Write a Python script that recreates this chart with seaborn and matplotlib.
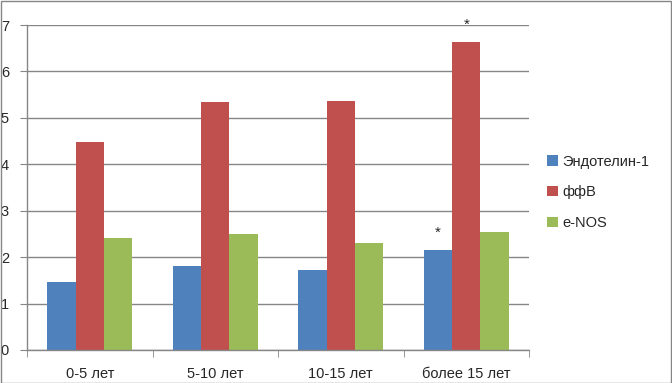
import pandas as pd
import numpy as np
import matplotlib.pyplot as plt
import seaborn as sns

# данные по стажу
groups = ['0-5 лет', '5-10 лет', '10-15 лет', 'более 15 лет']
series = ['Эндотелин-1', 'ффВ', 'e-NOS']
endothelin = [1.47, 1.80, 1.73, 2.16]
ffv = [4.49, 5.35, 5.37, 6.64]
enos = [2.42, 2.49, 2.31, 2.55]
colors = ['#4F81BD', '#C0504D', '#9BBB59']
# звёздочки: (серия, группа)
stars = [('Эндотелин-1', 'более 15 лет'), ('ффВ', 'более 15 лет')]

df = pd.DataFrame({
    'group': groups * 3,
    'series': np.repeat(series, len(groups)),
    'value': endothelin + ffv + enos,
})

sns.set_style('white')
plt.rcParams['font.family'] = ['Liberation Sans', 'DejaVu Sans']

fig = plt.figure(figsize=(6.72, 3.83), dpi=100)
ax = fig.add_axes([0.0402, 0.0862, 0.747, 0.8485])

sns.barplot(data=df, x='group', y='value', hue='series', order=groups,
            hue_order=series, palette=colors, width=0.68, gap=0,
            saturation=1, ax=ax, linewidth=0, edgecolor='none')

ax.set_ylim(0, 7)
ax.set_xlim(-0.5, len(groups) - 0.5)
ax.set_yticks(range(0, 8))
ax.set_xlabel('')
ax.set_ylabel('')

grid_c = '#868686'
ax.yaxis.grid(True, color=grid_c, linewidth=1)
ax.set_axisbelow(True)
for s in ['top', 'right']:
    ax.spines[s].set_visible(False)
for s in ['left', 'bottom']:
    ax.spines[s].set_color(grid_c)
    ax.spines[s].set_linewidth(1)

ax.tick_params(axis='y', left=True, length=5, color=grid_c, labelsize=10.5, pad=8)
ax.tick_params(axis='x', which='major', length=0, labelsize=10.5, pad=12)
ax.set_xticks(np.arange(-0.5, len(groups)), minor=True)
ax.tick_params(axis='x', which='minor', bottom=True, length=5, color=grid_c)

# звёздочки над столбцами
for cont, name in zip(ax.containers, series):
    for patch, g in zip(cont.patches, groups):
        if (name, g) in stars:
            ax.text(patch.get_x() + patch.get_width() / 2, patch.get_height() + 0.22,
                    '*', ha='center', va='bottom', fontsize=11)

ax.legend(loc='center left', bbox_to_anchor=(1.025, 0.485), frameon=False,
          fontsize=10.5, handlelength=0.7, handleheight=0.7, handletextpad=0.3,
          labelspacing=1.15, borderaxespad=0)

fig.patches.append(plt.Rectangle((0.001, 0.001), 0.997, 0.997, transform=fig.transFigure,
                                 fill=False, edgecolor=grid_c, linewidth=1))

fig.savefig('out.png', dpi=100)
